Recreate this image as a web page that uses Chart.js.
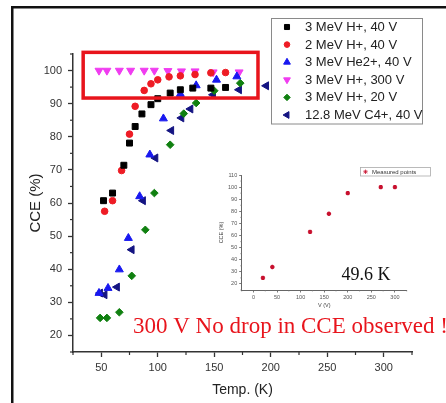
<!DOCTYPE html>
<html><head><meta charset="utf-8">
<script src="https://cdn.jsdelivr.net/npm/chart.js@4/dist/chart.umd.min.js"></script>
<style>
html,body{margin:0;padding:0;background:#fff;}
#wrap{position:relative;width:446px;height:403px;overflow:hidden;background:#fff;}
#main{position:absolute;left:0;top:0;}
#inset{position:absolute;left:205px;top:160px;}
</style></head><body>
<div id="wrap"><canvas id="main" width="446" height="403"></canvas><canvas id="inset" width="230" height="152"></canvas></div>
<script>
// ---- data ----
const labels = ['3 MeV H+, 40 V','2 MeV H+, 40 V','3 MeV He2+, 40 V','3 MeV H+, 300 V','3 MeV H+, 20 V','12.8 MeV C4+, 40 V'];

const temp_h3_40 = [52,60,70,75,80,86,94,100,111,120,131,147,160];
const cce_h3_40  = [60.7,63.0,71.4,78.1,83.1,86.9,89.7,91.5,93.2,94.2,94.7,94.7,94.9];

const temp_h2_40 = [53,60,68,75,80,88,94,100,110,120,133,147,160];
const cce_h2_40  = [57.5,60.7,69.8,80.8,89.2,94.0,96.0,97.2,98.1,98.4,98.8,99.3,99.4];

const temp_he_40 = [48,56,66,74,84,93,105,120,134,152,170];
const cce_he_40  = [32.8,34.3,39.9,49.4,62.0,74.6,85.5,92.9,95.5,97.2,98.2];

const temp_h3_300 = [48,55,66,76,88,97,109,121,133,149,172];
const cce_h3_300  = [100,100,100,100,100,100,99.9,99.8,99.8,99.5,99.5];

const temp_h3_20 = [49,55,66,77,89,97,111,123,134,150,173];
const cce_h3_20  = [25.3,25.3,27.0,38.0,51.9,63.0,77.6,87.0,90.2,93.9,96.2];

const temp_c4_40 = [49,53,64,77,87,98,112,121,129,149,172,196];
const cce_c4_40  = [32.8,32.3,34.6,45.9,60.7,73.6,81.9,85.7,88.4,92.7,94.2,95.4];

const xTickVals = [50,100,150,200,250,300];
const yTickVals = [20,30,40,50,60,70,80,90,100];

// inset: CCE vs bias at 49.6 K
const insetLabel = 'Measured points';
const insetVolt = [20,40,120,160,200,270,300];
const insetCce  = [25,34,63,78,95,100,100];
const insetXTicks = [0,50,100,150,200,250,300];
const insetYTicks = [20,30,40,50,60,70,80,90,100,110];

// highlight box (data units)
const boxX = [34,188.7];
const boxY = [91.7,105.5];

const SANS = '"Liberation Sans", Arial, sans-serif';
const SERIF = '"Liberation Serif", "Times New Roman", serif';

function ds(label, xs, ys, color, style, rot, r){
  return {label, data: xs.map((x,i)=>({x, y: ys[i]})), backgroundColor: color, borderColor: color,
    pointStyle: style, rotation: rot, pointRadius: r, pointHoverRadius: r, pointBorderWidth: 1, showLine:false};
}

function minorTicks(cfg){
  return {
    id:'minorTicks',
    afterDraw(chart){
      const ctx = chart.ctx; ctx.save();
      ctx.strokeStyle = cfg.color; ctx.lineWidth = cfg.width;
      for (const key of ['x','y']) {
        const s = chart.scales[key], c = cfg[key];
        const majors = s.ticks.map(t=>t.value);
        for (let v = Math.ceil(s.min/c.step)*c.step; v <= s.max + 1e-9; v += c.step) {
          if (majors.some(m=>Math.abs(m-v)<1e-9)) continue;
          const p = s.getPixelForValue(v);
          ctx.beginPath();
          if (key==='x') { ctx.moveTo(p, s.top); ctx.lineTo(p, s.top + c.len); }
          else { ctx.moveTo(s.right, p); ctx.lineTo(s.right - c.len, p); }
          ctx.stroke();
        }
      }
      ctx.restore();
    }
  };
}

const datasets = [
  ds(labels[0], temp_h3_40, cce_h3_40, '#000000', 'rect', 0, 4.2),
  ds(labels[1], temp_h2_40, cce_h2_40, '#ee1c25', 'circle', 0, 3.3),
  ds(labels[2], temp_he_40, cce_he_40, '#1818f0', 'triangle', 0, 4.6),
  ds(labels[3], temp_h3_300, cce_h3_300, '#f03cf0', 'triangle', 180, 4.6),
  ds(labels[4], temp_h3_20, cce_h3_20, '#108010', 'rectRot', 0, 3.8),
  ds(labels[5], temp_c4_40, cce_c4_40, '#141482', 'triangle', -90, 4.6)
];

const framePlugin = {
  id:'frame',
  beforeDraw(chart){
    const ctx = chart.ctx; ctx.save();
    ctx.fillStyle = '#fff'; ctx.fillRect(0,0,chart.width,chart.height);
    ctx.fillStyle = '#111';
    ctx.fillRect(11, 6, chart.width, 2.5);
    ctx.fillRect(11, 6, 2.5, chart.height);
    ctx.restore();
  }
};

const boxPlugin = {
  id:'hlbox',
  afterDatasetsDraw(chart){
    const {x, y} = chart.scales; const ctx = chart.ctx; ctx.save();
    const x0 = x.getPixelForValue(boxX[0]), x1 = x.getPixelForValue(boxX[1]);
    const y0 = y.getPixelForValue(boxY[1]), y1 = y.getPixelForValue(boxY[0]);
    ctx.strokeStyle = '#e8141c'; ctx.lineWidth = 3.5;
    ctx.strokeRect(x0, y0, x1-x0, y1-y0);
    ctx.restore();
  }
};

const legendPlugin = {
  id:'customLegend',
  afterDraw(chart){
    const ctx = chart.ctx; ctx.save();
    const bx = 271.5, by = 18.5, bw = 151, bh = 105.5;
    ctx.fillStyle = '#fff'; ctx.fillRect(bx, by, bw, bh);
    ctx.strokeStyle = '#8a8a8a'; ctx.lineWidth = 1; ctx.strokeRect(bx, by, bw, bh);
    ctx.font = '13px ' + SANS; ctx.textBaseline = 'middle'; ctx.textAlign = 'left';
    chart.data.datasets.forEach((d, i) => {
      const cy = 27 + i*17.6;
      ctx.fillStyle = d.backgroundColor; ctx.strokeStyle = d.borderColor; ctx.lineWidth = 1;
      Chart.helpers.drawPoint(ctx, {pointStyle: d.pointStyle, rotation: d.rotation, radius: d.pointRadius*0.85, borderWidth: 1}, 287, cy);
      ctx.fillStyle = '#222';
      ctx.fillText(d.label, 305, cy + 0.5);
    });
    // annotations
    ctx.fillStyle = '#e8141c'; ctx.font = '23px ' + SERIF; ctx.textBaseline = 'alphabetic';
    ctx.fillText('300 V No drop in CCE observed !', 133, 333);
    ctx.fillStyle = '#111'; ctx.font = '18px ' + SERIF;
    ctx.fillText('49.6 K', 341.5, 280);
    ctx.restore();
  }
};

new Chart(document.getElementById('main'), {
  type:'scatter',
  data:{datasets},
  options:{
    responsive:false, animation:false, devicePixelRatio:1,
    layout:{padding:{top:54, right:34, left:0, bottom:0}},
    plugins:{legend:{display:false}, tooltip:{enabled:false}},
    scales:{
      x:{type:'linear', min:25, max:325,
        afterBuildTicks: s => { s.ticks = xTickVals.map(v=>({value:v})); },
        afterFit: s => { s.height = 51; },
        ticks:{font:{family:SANS, size:11}, color:'#333', padding:4, maxRotation:0, autoSkip:false},
        grid:{drawOnChartArea:false, drawTicks:true, tickLength:5, tickColor:'#333', tickWidth:1.3, color:'#333'},
        border:{display:true, color:'#333', width:1.5},
        title:{display:true, text:'Temp. (K)', font:{family:SANS, size:14}, color:'#222', padding:{top:0, bottom:4}}
      },
      y:{type:'linear', min:15, max:105,
        afterBuildTicks: s => { s.ticks = yTickVals.map(v=>({value:v})); },
        afterFit: s => { s.width = 73; },
        ticks:{font:{family:SANS, size:11}, color:'#333', padding:6, autoSkip:false},
        grid:{drawOnChartArea:false, drawTicks:true, tickLength:5, tickColor:'#333', tickWidth:1.3, color:'#333'},
        border:{display:true, color:'#333', width:1.5},
        title:{display:true, text:'CCE (%)', font:{family:SANS, size:15}, color:'#222', padding:{top:27, bottom:0}}
      }
    }
  },
  plugins:[framePlugin, minorTicks({color:'#333', width:1.2, x:{step:25, len:3}, y:{step:5, len:3}}), boxPlugin, legendPlugin]
});

const insetLegend = {
  id:'insetLegend',
  afterDraw(chart){
    const ctx = chart.ctx; ctx.save();
    ctx.fillStyle = '#fff'; ctx.fillRect(155.5, 7.5, 70, 8.5);
    ctx.strokeStyle = '#aaa'; ctx.lineWidth = 0.8; ctx.strokeRect(155.5, 7.5, 70, 8.5);
    const d = chart.data.datasets[0];
    ctx.fillStyle = d.backgroundColor; ctx.strokeStyle = d.borderColor;
    Chart.helpers.drawPoint(ctx, {pointStyle: d.pointStyle, rotation: 0, radius: d.pointRadius, borderWidth: 1.3}, 160.5, 11.8);
    ctx.fillStyle = '#333'; ctx.font = '6px ' + SANS; ctx.textBaseline = 'middle';
    ctx.fillText(d.label, 167, 12);
    ctx.restore();
  }
};

new Chart(document.getElementById('inset'), {
  type:'scatter',
  data:{datasets:[{label:insetLabel, data: insetVolt.map((v,i)=>({x:v, y:insetCce[i]})),
    backgroundColor:'#c8102e', borderColor:'#c8102e', pointStyle:'star', pointRadius:2.2, pointBorderWidth:1.4, showLine:false}]},
  options:{
    responsive:false, animation:false, devicePixelRatio:1,
    layout:{padding:{top:15, right:28.3, left:0, bottom:0}},
    plugins:{legend:{display:false}, tooltip:{enabled:false}},
    scales:{
      x:{type:'linear', min:-25, max:325,
        afterBuildTicks: s => { s.ticks = insetXTicks.map(v=>({value:v})); },
        afterFit: s => { s.height = 22; },
        ticks:{font:{family:SANS, size:5.5}, color:'#555', padding:1.5, maxRotation:0, autoSkip:false},
        grid:{drawOnChartArea:false, tickLength:2.5, tickColor:'#555', tickWidth:0.8},
        border:{display:true, color:'#555', width:0.9},
        title:{display:true, text:'V (V)', font:{family:SANS, size:5.5}, color:'#444', padding:{top:0, bottom:3.7}}
      },
      y:{type:'linear', min:15, max:110,
        afterBuildTicks: s => { s.ticks = insetYTicks.map(v=>({value:v})); },
        afterFit: s => { s.width = 36.7; },
        ticks:{font:{family:SANS, size:5.5}, color:'#555', padding:2, autoSkip:false},
        grid:{drawOnChartArea:false, tickLength:2.5, tickColor:'#555', tickWidth:0.8},
        border:{display:true, color:'#555', width:0.9},
        title:{display:true, text:'CCE (%)', font:{family:SANS, size:5.5}, color:'#444', padding:{top:13.4, bottom:0}}
      }
    }
  },
  plugins:[minorTicks({color:'#777', width:0.6, x:{step:25, len:1.5}, y:{step:5, len:1.5}}), insetLegend]
});
</script>
</body></html>
